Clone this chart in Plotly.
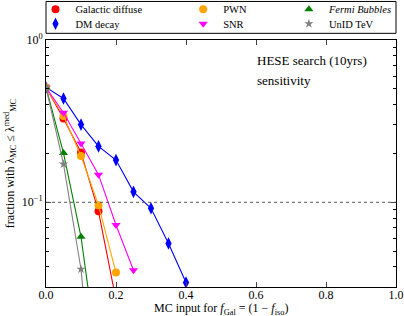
import plotly.graph_objects as go

x_vals = [0.0, 0.05, 0.10, 0.15, 0.20, 0.25, 0.30, 0.35, 0.40]

gal_diffuse = [0.51, 0.328, 0.203, 0.088, 0.025]
pwn = [0.51, 0.340, 0.193, 0.096, 0.0369]
fermi = [0.51, 0.201, 0.0613, 0.010]
dm_decay = [0.51, 0.436, 0.301, 0.221, 0.182, 0.116, 0.0918, 0.0557, 0.032]
snr = [0.51, 0.356, 0.230, 0.148, 0.0724, 0.0381]
unid = [0.51, 0.172, 0.0387, 0.003]

x_ticks = [0.0, 0.2, 0.4, 0.6, 0.8, 1.0]
x_ticklabels = ["0.0", "0.2", "0.4", "0.6", "0.8", "1.0"]
y_ticks = [0.1, 1.0]
y_ticklabels = ["10<sup>\u22121</sup>", "10<sup>0</sup>"]

FONT = "Liberation Serif"

# name, values, colour, symbol, size, legend id, legend x (paper), legend y (paper)
series = [
    ("Galactic diffuse", gal_diffuse, "#ff0000", "circle", 8, "legend", -0.030, 1.125),
    ("DM decay", dm_decay, "#0000ff", "diamond-tall", 9, "legend2", -0.030, 1.066),
    ("PWN", pwn, "#ffa500", "circle", 8, "legend3", 0.392, 1.125),
    ("SNR", snr, "#ff00ff", "triangle-down", 8, "legend4", 0.392, 1.066),
    ("<i>Fermi Bubbles</i>", fermi, "#008000", "triangle-up", 8, "legend5", 0.694, 1.125),
    ("UnID TeV", unid, "#808080", "star", 7, "legend6", 0.694, 1.066),
]

fig = go.Figure()
legends = {}
for name, vals, color, sym, size, leg, lx, ly in series:
    fig.add_trace(go.Scatter(
        x=x_vals[:len(vals)], y=vals, name=name, mode="lines+markers",
        line=dict(color=color, width=1.1),
        marker=dict(color=color, symbol=sym, size=size, line=dict(width=0)),
        showlegend=False,
    ))
    fig.add_trace(go.Scatter(
        x=[None], y=[None], name=name, mode="markers",
        marker=dict(color=color, symbol=sym, size=size, line=dict(width=0)),
        legend=leg, showlegend=True,
    ))
    legends[leg] = dict(bgcolor="rgba(0,0,0,0)", borderwidth=0,
                        x=lx, y=ly, xanchor="left", yanchor="middle",
                        itemwidth=30,
                        font=dict(family=FONT, size=10.5, color="black"))

fig.add_hline(y=0.1, line=dict(color="#555555", width=1, dash="dot"))

fig.add_shape(type="rect", xref="paper", yref="paper", x0=0, x1=1,
              y0=1.027, y1=1.156, line=dict(color="black", width=1))

fig.add_annotation(text="HESE search (10yrs)", xref="paper", yref="paper",
                   x=0.597, y=0.918, xanchor="left", yanchor="middle",
                   showarrow=False, font=dict(family=FONT, size=13, color="black"))
fig.add_annotation(text="sensitivity", xref="paper", yref="paper",
                   x=0.597, y=0.837, xanchor="left", yanchor="middle",
                   showarrow=False, font=dict(family=FONT, size=13, color="black"))

# x-axis title placed as an annotation so it can sit in the tight bottom margin
fig.add_annotation(text="MC input for <i>f</i><sub>Gal</sub> = (1 \u2212 <i>f</i><sub>iso</sub>)",
                   xref="paper", yref="paper", x=0.5, y=-0.088,
                   xanchor="center", yanchor="middle", showarrow=False,
                   font=dict(family=FONT, size=12, color="black"))

fig.update_layout(
    width=404, height=316,
    margin=dict(l=46, r=8, t=40, b=29, autoexpand=False),
    paper_bgcolor="white", plot_bgcolor="white",
    font=dict(family=FONT, size=12, color="black"),
    xaxis=dict(range=[0, 1], tickvals=x_ticks, ticktext=x_ticklabels,
               ticks="inside", ticklen=5, mirror="allticks", showline=True,
               linecolor="black", linewidth=1, showgrid=False, zeroline=False,
               automargin=False, ticklabelstandoff=-3),
    yaxis=dict(type="log", range=[-1.522, 0], tickvals=y_ticks, ticktext=y_ticklabels,
               ticks="inside", ticklen=5, mirror="allticks", showline=True,
               linecolor="black", linewidth=1, showgrid=False, zeroline=False,
               automargin=False,
               minor=dict(ticks="inside", ticklen=3, tickcolor="black",
                          tickvals=[0.03, 0.04, 0.05, 0.06, 0.07, 0.08, 0.09,
                                    0.2, 0.3, 0.4, 0.5, 0.6, 0.7, 0.8, 0.9]),
               title=dict(text="fraction with \u03bb<sub>MC</sub> \u2264 \u03bb<sup>med</sup><sub>MC</sub>",
                          standoff=4, font=dict(size=12))),
    **legends,
)

fig.write_html("out.html", config={"displayModeBar": False},
               post_script="document.body.style.margin='0';document.body.style.overflow='hidden';")
